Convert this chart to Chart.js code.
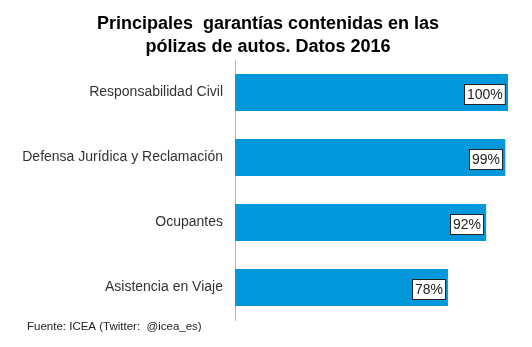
<!DOCTYPE html>
<html>
<head>
<meta charset="utf-8">
<script src="https://cdn.jsdelivr.net/npm/chart.js@4.4.0/dist/chart.umd.min.js"></script>
<style>
  html, body { margin: 0; padding: 0; background: #fff; }
  #wrap { width: 532px; height: 347px; }
</style>
</head>
<body>
<div id="wrap"><canvas id="garantias"></canvas></div>
<script>
const categorias = ['Responsabilidad Civil', 'Defensa Jurídica y Reclamación', 'Ocupantes', 'Asistencia en Viaje'];
const porcentajes = [100, 99, 92, 78];
const titulo = ['Principales  garantías contenidas en las', 'pólizas de autos. Datos 2016'];
const fuente = 'Fuente: ICEA (Twitter:  @icea_es)';

const FAMILIA = '"Liberation Sans", Arial, sans-serif';

// título centrado sobre toda la figura
const tituloCentrado = {
    id: 'tituloCentrado',
    afterDraw(chart) {
        const ctx = chart.ctx;
        ctx.save();
        ctx.font = 'bold 18px ' + FAMILIA;
        ctx.fillStyle = '#000';
        ctx.textAlign = 'center';
        ctx.textBaseline = 'middle';
        titulo.forEach((linea, i) => ctx.fillText(linea, 268, 24 + i * 23));
        ctx.restore();
    }
};

// etiquetas con recuadro blanco al final de cada barra
const etiquetasValor = {
    id: 'etiquetasValor',
    afterDatasetsDraw(chart) {
        const ctx = chart.ctx;
        const meta = chart.getDatasetMeta(0);
        ctx.save();
        ctx.font = '14px ' + FAMILIA;
        ctx.textBaseline = 'middle';
        ctx.textAlign = 'left';
        meta.data.forEach((bar, i) => {
            const texto = porcentajes[i] + '%';
            const w = ctx.measureText(texto).width + 5;
            const h = 20;
            const x = Math.round(bar.x - 3 - w) + 0.5;
            const y = Math.round(bar.y - h / 2 + 1) + 0.5;
            ctx.fillStyle = '#ffffff';
            ctx.fillRect(x, y, w, h);
            ctx.strokeStyle = '#222';
            ctx.lineWidth = 1;
            ctx.strokeRect(x, y, w, h);
            ctx.fillStyle = '#222';
            ctx.fillText(texto, x + 2.5, y + h / 2 + 1);
        });
        ctx.restore();
    }
};

// texto de la fuente abajo a la izquierda
const notaFuente = {
    id: 'notaFuente',
    afterDraw(chart) {
        const ctx = chart.ctx;
        ctx.save();
        ctx.font = '11.5px ' + FAMILIA;
        ctx.fillStyle = '#222';
        ctx.textBaseline = 'middle';
        ctx.fillText(fuente, 27, 327);
        ctx.restore();
    }
};

new Chart(document.getElementById('garantias').getContext('2d'), {
    type: 'bar',
    data: {
        labels: categorias,
        datasets: [{
            data: porcentajes,
            backgroundColor: '#0398db',
            borderWidth: 0,
            barPercentage: 0.57,
            categoryPercentage: 1
        }]
    },
    options: {
        indexAxis: 'y',
        responsive: true,
        maintainAspectRatio: false,
        animation: false,
        layout: { padding: { left: 0, right: 24, top: 60, bottom: 27 } },
        plugins: {
            legend: { display: false },
            tooltip: { enabled: false },
            title: { display: false }
        },
        scales: {
            x: {
                display: false,
                min: 0,
                max: 100
            },
            y: {
                afterFit(scale) { scale.width = 235; },
                grid: { display: false, drawTicks: false },
                border: { display: true, color: '#b8b8b8', width: 1 },
                ticks: {
                    color: '#333',
                    padding: 12,
                    font: { family: FAMILIA, size: 14 }
                }
            }
        }
    },
    plugins: [tituloCentrado, etiquetasValor, notaFuente]
});
</script>
</body>
</html>
